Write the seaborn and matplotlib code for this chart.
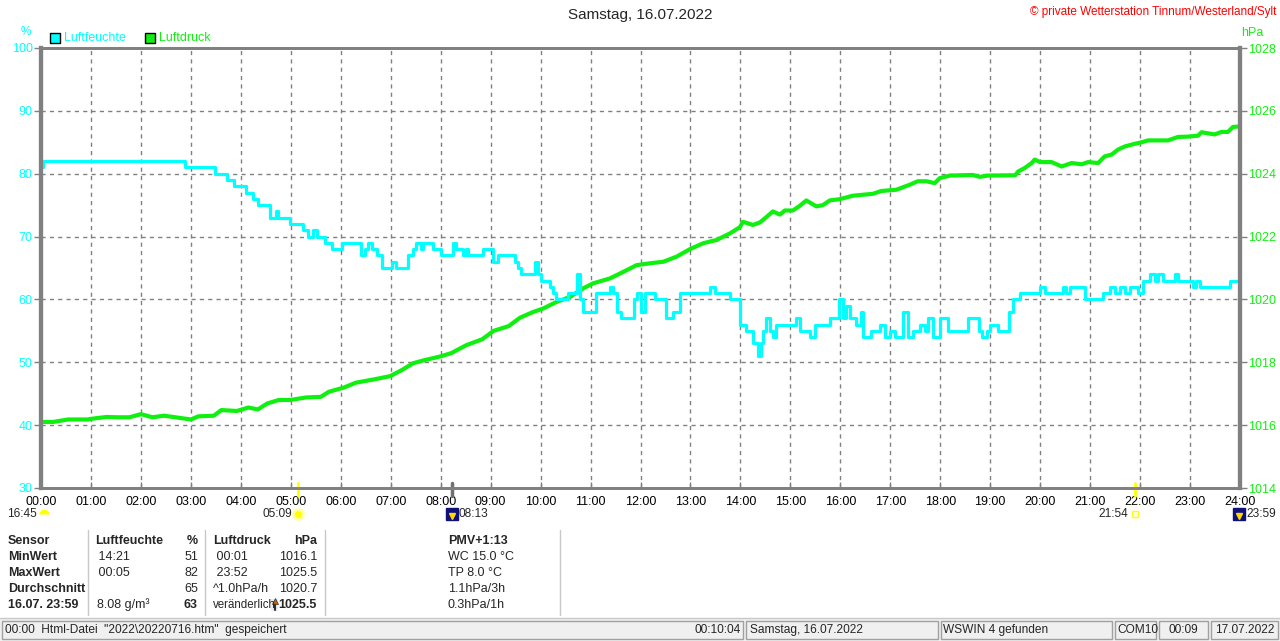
import numpy as np
import pandas as pd
import matplotlib
matplotlib.use('Agg')
import matplotlib.pyplot as plt
import matplotlib.transforms as mtransforms
from matplotlib.patches import Rectangle
from matplotlib.lines import Line2D
import seaborn as sns

# Luftfeuchte (%), Stufenwerte: Stunde ab der der Wert gilt
hum_t = [0.0, 0.05, 2.88, 3.48, 3.72, 3.86, 4.10, 4.24, 4.35, 4.58, 4.70, 4.75, 4.98, 5.24, 5.35,
         5.45, 5.52, 5.68, 5.82, 6.02, 6.40, 6.48, 6.55, 6.62, 6.72, 6.82, 7.02, 7.10, 7.35, 7.45,
         7.50, 7.60, 7.65, 7.85, 8.00, 8.25, 8.30, 8.45, 8.50, 8.55, 8.85, 9.05, 9.15, 9.49, 9.55,
         9.60, 9.89, 9.95, 10.00, 10.19, 10.25, 10.30, 10.55, 10.72, 10.78, 10.85, 11.10, 11.39, 11.45,
         11.52, 11.60, 11.86, 11.93, 12.00, 12.10, 12.30, 12.52, 12.66, 12.80, 13.39, 13.50, 13.79,
         13.99, 14.12, 14.26, 14.36, 14.42, 14.46, 14.52, 14.60, 14.66, 14.72, 15.12, 15.20, 15.39,
         15.50, 15.79, 15.98, 16.06, 16.12, 16.20, 16.32, 16.42, 16.46, 16.62, 16.80, 16.90, 17.00,
         17.10, 17.26, 17.36, 17.45, 17.60, 17.70, 17.76, 17.85, 17.99, 18.15, 18.55, 18.78, 18.83,
         18.93, 19.00, 19.15, 19.38, 19.45, 19.60, 20.00, 20.10, 20.46, 20.52, 20.60, 20.90, 21.26,
         21.40, 21.50, 21.60, 21.70, 21.80, 21.95, 22.05, 22.20, 22.30, 22.35, 22.46, 22.70, 22.76,
         23.06, 23.12, 23.20, 23.80, 24.00]
hum_v = [81, 82, 81, 80, 79, 78, 77, 76, 75, 73, 74, 73, 72, 71, 70,
         71, 70, 69, 68, 69, 67, 68, 69, 68, 67, 65, 66, 65, 67, 68,
         69, 68, 69, 68, 67, 69, 68, 67, 68, 67, 68, 66, 67, 66, 65,
         64, 66, 64, 63, 62, 61, 60, 61, 64, 60, 58, 61, 62, 61,
         58, 57, 60, 61, 58, 61, 60, 57, 58, 61, 62, 61, 60,
         56, 55, 53, 51, 53, 55, 57, 55, 54, 56, 57, 55, 54,
         56, 57, 60, 57, 59, 57, 56, 58, 54, 55, 56, 54, 55,
         54, 58, 54, 55, 56, 55, 57, 54, 57, 55, 57, 55, 54,
         55, 56, 55, 58, 60, 61, 62, 61, 62, 61, 62, 60, 61,
         62, 61, 62, 61, 62, 61, 63, 64, 63, 64, 63, 64, 63,
         62, 63, 62, 63, 63]

# Luftdruck (hPa)
pres_t = [0.0, 0.24, 0.54, 0.93, 1.0, 1.31, 1.54, 1.77, 2.0, 2.23, 2.46, 2.69, 3.0, 3.15, 3.46,
          3.61, 3.92, 4.15, 4.34, 4.53, 4.76, 4.99, 5.3, 5.6, 5.76, 6.07, 6.3, 6.68, 6.99, 7.22,
          7.45, 7.68, 7.98, 8.21, 8.52, 8.83, 9.06, 9.36, 9.59, 9.85, 10.05, 10.32, 10.59, 10.85,
          11.05, 11.39, 11.66, 11.92, 12.19, 12.46, 12.72, 12.99, 13.26, 13.52, 13.79, 13.99, 14.05,
          14.25, 14.39, 14.52, 14.65, 14.79, 14.89, 15.05, 15.19, 15.32, 15.52, 15.65, 15.79, 15.99,
          16.25, 16.65, 16.82, 17.12, 17.39, 17.55, 17.72, 17.89, 17.99, 18.19, 18.65, 18.79, 18.95,
          19.5, 19.56, 19.69, 19.83, 19.89, 20.0, 20.23, 20.43, 20.63, 20.83, 20.96, 21.16, 21.29,
          21.43, 21.56, 21.7, 21.89, 22.03, 22.16, 22.56, 22.76, 22.96, 23.16, 23.23, 23.49, 23.63,
          23.76, 23.86, 23.98]
pres_v = [1016.1, 1016.1, 1016.18, 1016.18, 1016.2, 1016.26, 1016.25, 1016.25, 1016.35, 1016.25,
          1016.3, 1016.25, 1016.18, 1016.28, 1016.3, 1016.48, 1016.45, 1016.56, 1016.5, 1016.69,
          1016.8, 1016.8, 1016.88, 1016.9, 1017.06, 1017.2, 1017.35, 1017.46, 1017.56, 1017.75,
          1017.97, 1018.07, 1018.18, 1018.29, 1018.55, 1018.73, 1019.0, 1019.15, 1019.42, 1019.6,
          1019.71, 1019.92, 1020.08, 1020.35, 1020.51, 1020.67, 1020.88, 1021.09, 1021.15, 1021.2,
          1021.36, 1021.6, 1021.79, 1021.89, 1022.1, 1022.3, 1022.47, 1022.37, 1022.45, 1022.62,
          1022.8, 1022.7, 1022.83, 1022.83, 1022.98, 1023.15, 1022.96, 1023.0, 1023.15, 1023.19,
          1023.3, 1023.36, 1023.45, 1023.49, 1023.65, 1023.76, 1023.76, 1023.7, 1023.86, 1023.94,
          1023.96, 1023.9, 1023.94, 1023.95, 1024.07, 1024.18, 1024.34, 1024.45, 1024.37, 1024.37,
          1024.23, 1024.34, 1024.3, 1024.37, 1024.34, 1024.55, 1024.61, 1024.77, 1024.87, 1024.95,
          1025.0, 1025.06, 1025.06, 1025.17, 1025.18, 1025.21, 1025.32, 1025.25, 1025.33, 1025.33,
          1025.49, 1025.5]

hours = list(range(25))
hour_labels = ['%02d:00' % h for h in hours]
hum_ticks = [30, 40, 50, 60, 70, 80, 90, 100]
pres_ticks = [1014, 1016, 1018, 1020, 1022, 1024, 1026, 1028]

# Sonne/Mond Zeiten unter der Achse
sun_times = [5.15, 21.9]
moon_times = [8.217, 23.98]

table_rows = [
    ['Sensor', 'Luftfeuchte', '%', 'Luftdruck', 'hPa', 'PMV+1:13'],
    ['MinWert', ' 14:21', '51', ' 00:01', '1016.1', 'WC 15.0 °C'],
    ['MaxWert', ' 00:05', '82', ' 23:52', '1025.5', 'TP 8.0 °C'],
    ['Durchschnitt', '', '65', '^1.0hPa/h', '1020.7', '1.1hPa/3h'],
    ['16.07. 23:59', '8.08 g/m³', '63', 'veränderlich', '1025.5', '0.3hPa/1h'],
]

CYAN = '#00ffff'
GREEN = '#10f010'
GRAY = '#808080'

sns.set_style('white')
plt.rcParams['font.family'] = ['Liberation Sans', 'DejaVu Sans']
plt.rcParams['font.size'] = 9

W, H = 1280, 641
fig = plt.figure(figsize=(W / 100, H / 100), dpi=100)
fig.patch.set_facecolor('white')


def fx(px):
    return px / W


def fy(py):
    return 1 - py / H


ax = fig.add_axes([fx(41), fy(488), 1199 / W, 440 / H])
ax2 = ax.twinx()
ax.set_zorder(2)
ax2.set_zorder(1)
ax.patch.set_visible(False)

hum_df = pd.DataFrame({'t': hum_t, 'v': hum_v})
pres_df = pd.DataFrame({'t': pres_t, 'v': pres_v})

sns.lineplot(data=pres_df, x='t', y='v', ax=ax2, color=GREEN, lw=3.0, estimator=None, zorder=3)
sns.lineplot(data=hum_df, x='t', y='v', ax=ax, color=CYAN, lw=2.3, estimator=None,
             drawstyle='steps-post')

ax.set_xlim(0, 24)
ax.set_ylim(30, 100)
ax2.set_ylim(1014, 1028)
ax.set_xticks(hours)
ax.set_xticklabels(hour_labels)
ax.set_yticks(hum_ticks)
ax2.set_yticks(pres_ticks)
for a in (ax, ax2):
    a.set_xlabel('')
    a.set_ylabel('')

# Gitter auf der unteren Achse, damit die Kurven darueber liegen
ax.grid(False)
ax2.yaxis.grid(True, color=GRAY, ls=(0, (3, 3)), lw=1)
ax2.vlines(hours[1:-1], *ax2.get_ylim(), colors=GRAY, linestyles=(0, (3, 3)), lw=1, zorder=1)
ax2.set_ylim(1014, 1028)

ax.tick_params(axis='y', colors=GRAY, labelcolor=CYAN, length=5, width=1, pad=1, labelsize=9,
               left=True, direction='out')
ax2.tick_params(axis='y', colors=GRAY, labelcolor=GREEN, length=5, width=1, pad=1, labelsize=9,
                right=True, direction='out')
ax.tick_params(axis='x', colors=GRAY, labelcolor='black', length=4, width=1, pad=5.5,
               labelsize=9, bottom=True, direction='in')

for a in (ax, ax2):
    for s in a.spines.values():
        s.set_color(GRAY)
    a.spines['left'].set_linewidth(3)
    a.spines['right'].set_linewidth(3)
    a.spines['top'].set_linewidth(2)
    a.spines['bottom'].set_linewidth(2)

# Markierungen an der Zeitachse
trans = mtransforms.blended_transform_factory(ax.transData, ax.transAxes)
for t in sun_times:
    ax.plot([t, t], [0.012, -0.018], color='#ffff00', lw=2, transform=trans, clip_on=False)
ax.plot([moon_times[0]] * 2, [0.012, -0.018], color='#707070', lw=2.5, transform=trans,
        clip_on=False)

ym = -0.06
fs_ev = 8.6
ax.plot([0.06], [ym], marker='o', ms=7, fillstyle='top', markerfacecolor='#ffff00',
        markerfacecoloralt='none', mec='none', transform=trans, clip_on=False)
ax.text(-0.08, ym, '16:45', ha='right', va='center', fontsize=fs_ev, transform=trans)
ax.plot([sun_times[0]], [ym], marker='o', ms=7, mfc='#ffff00', mec='#ffffa0', mew=2,
        transform=trans, clip_on=False)
ax.text(sun_times[0] - 0.13, ym, '05:09', ha='right', va='center', fontsize=fs_ev,
        transform=trans)
ax.plot([sun_times[1]], [ym], marker='s', ms=5, mfc='none', mec='#ffff00', mew=1,
        transform=trans, clip_on=False)
ax.text(sun_times[1] - 0.13, ym, '21:54', ha='right', va='center', fontsize=fs_ev,
        transform=trans)
for t, lab in zip(moon_times, ['08:13', '23:59']):
    ax.plot([t], [ym], marker='s', ms=8, mfc='#10107a', mec='#10107a', transform=trans,
            clip_on=False)
    ax.plot([t], [ym - 0.004], marker='v', ms=4, mfc='#ffd800', mec='#ffd800',
            transform=trans, clip_on=False)
    ax.text(t + 0.14, ym, lab, ha='left', va='center', fontsize=fs_ev, transform=trans)

# Kopfzeile
fig.text(0.5, fy(15), 'Samstag, 16.07.2022', ha='center', va='center', fontsize=11)
fig.text(fx(1276), fy(12), '© private Wetterstation Tinnum/Westerland/Sylt', ha='right',
         va='center', fontsize=8.5, color='#ff0000')
fig.text(fx(26), fy(32), '%', ha='center', va='center', fontsize=8.5, color=CYAN)
fig.text(fx(1241), fy(33), 'hPa', ha='left', va='center', fontsize=9, color=GREEN)

for x0, col, lab in [(50, CYAN, 'Luftfeuchte'), (145, GREEN, 'Luftdruck')]:
    fig.add_artist(Rectangle((fx(x0), fy(43)), 10 / W, 10 / H, facecolor=col,
                             edgecolor='black', lw=1, transform=fig.transFigure))
    fig.text(fx(x0 + 14), fy(38), lab, ha='left', va='center', fontsize=9, color=col)

# Tabelle
row_y = [541, 557, 573, 589, 605]
col_x = [8, 95, 198, 213, 317, 448]
col_ha = ['left', 'left', 'right', 'left', 'right', 'left']
for r, (row, yy) in enumerate(zip(table_rows, row_y)):
    for c, txt in enumerate(row):
        bold = r == 0 or c == 0 or (r == 4 and c in (2, 4))
        xx = col_x[c]
        size = 9
        if r == 4 and c == 1:
            xx = 97
        if r == 4 and c == 3:
            size = 8.3
        fig.text(fx(xx), fy(yy), txt, ha=col_ha[c], va='center', fontsize=size,
                 fontweight='bold' if bold else 'normal')

# Tendenzpfeil als kleines Symbol
fig.add_artist(Rectangle((fx(271), fy(611)), 7 / W, 12 / H, facecolor='#e8eef4',
                         edgecolor='none', transform=fig.transFigure))
fig.add_artist(Line2D([fx(274.5), fx(274.5)], [fy(610), fy(602)], color='#303030', lw=1.5,
                      transform=fig.transFigure))
fig.add_artist(Line2D([fx(274.5)], [fy(601)], marker='^', ms=4, mfc='#c86400', mec='#303030',
                      mew=0.5, transform=fig.transFigure))

for xs in [88, 205, 325, 560]:
    fig.add_artist(Line2D([fx(xs), fx(xs)], [fy(530), fy(615)], color='#c8c8c8', lw=1,
                          transform=fig.transFigure))

# Statusleiste
fig.add_artist(Line2D([0, 1], [fy(618), fy(618)], color='#c8c8c8', lw=1,
                      transform=fig.transFigure))
fig.add_artist(Rectangle((0, 0), 1, fy(619), facecolor='#f0f0f0', edgecolor='none',
                         transform=fig.transFigure))
for x0, x1 in [(2, 743), (746, 938), (941, 1112), (1115, 1156), (1159, 1208), (1211, 1278)]:
    fig.add_artist(Rectangle((fx(x0), fy(639)), (x1 - x0) / W, 18 / H, facecolor='#f0f0f0',
                             edgecolor='#a0a0a0', lw=1, transform=fig.transFigure))
status = [(5, 'left', '00:00  Html-Datei  "2022\\20220716.htm"  gespeichert'),
          (741, 'right', '00:10:04'), (750, 'left', 'Samstag, 16.07.2022'),
          (943, 'left', 'WSWIN 4 gefunden'), (1117, 'left', 'COM10'),
          (1183, 'center', '00:09'), (1215, 'left', '17.07.2022')]
for xx, ha, txt in status:
    fig.text(fx(xx), fy(630), txt, ha=ha, va='center', fontsize=8.6)

fig.savefig('out.png', dpi=100)
